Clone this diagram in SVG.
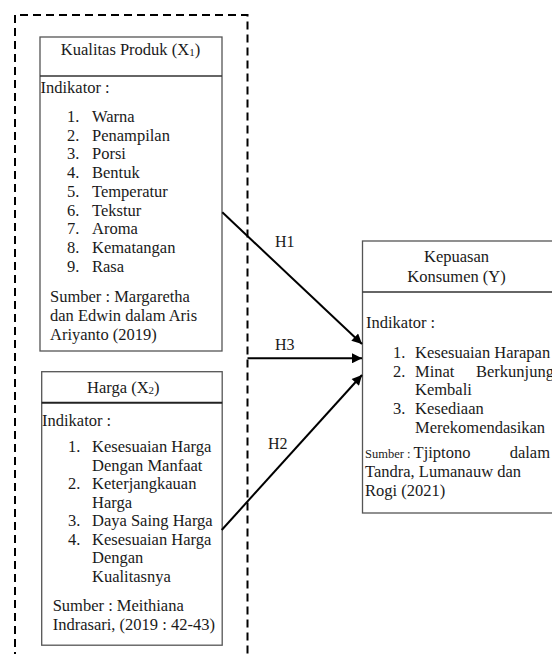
<svg xmlns="http://www.w3.org/2000/svg" width="552" height="654" viewBox="0 0 552 654">
<defs>
<style>
text{font-family:"Liberation Serif","Times New Roman",serif;font-size:16.5px;fill:#1a1a1a}
.box{fill:#fff;stroke:#555;stroke-width:1.3}
.hdr{stroke:#333;stroke-width:1.3}
.sub{font-size:11px}
.small{font-size:12.5px}
.conn{stroke:#000;stroke-width:2;fill:none}
.lbl{font-size:16px}
</style>
<marker id="ah" viewBox="0 0 10 10" refX="10" refY="5" markerWidth="5.5" markerHeight="5" orient="auto" markerUnits="strokeWidth">
<path d="M0,0 L10,5 L0,10 z" fill="#000"/>
</marker>
</defs>
<rect width="552" height="654" fill="#fff"/>
<g id="group-frame">
<path d="M15,660 L15,15 L247.5,15 L247.5,660" fill="none" stroke="#000" stroke-width="2" stroke-dasharray="8,5"/>
</g>
<g id="node-x1">
<rect class="box" x="40" y="37" width="182" height="314"/>
<line class="hdr" x1="40" y1="76" x2="222" y2="76"/>
<text x="130.5" y="55" text-anchor="middle">Kualitas Produk (X<tspan class="sub" dy="1">1</tspan><tspan dy="-1">)</tspan></text>
<text x="40.5" y="93">Indikator :</text>
<text x="67" y="122">1.</text><text x="92" y="122">Warna</text>
<text x="67" y="140.7">2.</text><text x="92" y="140.7">Penampilan</text>
<text x="67" y="159.4">3.</text><text x="92" y="159.4">Porsi</text>
<text x="67" y="178.1">4.</text><text x="92" y="178.1">Bentuk</text>
<text x="67" y="196.8">5.</text><text x="92" y="196.8">Temperatur</text>
<text x="67" y="215.5">6.</text><text x="92" y="215.5">Tekstur</text>
<text x="67" y="234.2">7.</text><text x="92" y="234.2">Aroma</text>
<text x="67" y="252.9">8.</text><text x="92" y="252.9">Kematangan</text>
<text x="67" y="271.6">9.</text><text x="92" y="271.6">Rasa</text>
<text x="50" y="302">Sumber : Margaretha</text>
<text x="50" y="321">dan Edwin dalam Aris</text>
<text x="50" y="340">Ariyanto (2019)</text>
</g>
<g id="node-x2">
<rect class="box" x="41.7" y="371.7" width="180.5" height="273.5"/>
<line x1="41.7" y1="402.7" x2="222.2" y2="402.7" stroke="#222" stroke-width="2"/>
<text x="87" y="393">Harga (X<tspan class="sub" dy="1">2</tspan><tspan dy="-1">)</tspan></text>
<text x="42" y="426">Indikator :</text>
<text x="68" y="452">1.</text><text x="92" y="452">Kesesuaian Harga</text>
<text x="92" y="470.5">Dengan Manfaat</text>
<text x="68" y="489">2.</text><text x="92" y="489">Keterjangkauan</text>
<text x="92" y="507.5">Harga</text>
<text x="68" y="526">3.</text><text x="92" y="526">Daya Saing Harga</text>
<text x="68" y="544.5">4.</text><text x="92" y="544.5">Kesesuaian Harga</text>
<text x="92" y="563">Dengan</text>
<text x="92" y="581.5">Kualitasnya</text>
<text x="52.7" y="611">Sumber : Meithiana</text>
<text x="52.7" y="630">Indrasari, (2019 : 42-43)</text>
</g>
<g id="node-y">
<rect class="box" x="362.5" y="241" width="192" height="272"/>
<line class="hdr" x1="362.5" y1="292" x2="554" y2="292"/>
<text x="456.5" y="262" text-anchor="middle">Kepuasan</text>
<text x="456.5" y="282" text-anchor="middle">Konsumen (Y)</text>
<text x="366" y="328">Indikator :</text>
<text x="393" y="358">1.</text><text x="415" y="358">Kesesuaian Harapan</text>
<text x="393" y="377">2.</text><text x="415" y="377">Minat</text><text x="476" y="377">Berkunjung</text>
<text x="415" y="395">Kembali</text>
<text x="393" y="414">3.</text><text x="415" y="414">Kesediaan</text>
<text x="415" y="433">Merekomendasikan</text>
<text x="365" y="458"><tspan class="small">Sumber : </tspan>Tjiptono</text><text x="550" y="458" text-anchor="end">dalam</text>
<text x="365" y="477">Tandra, Lumanauw dan</text>
<text x="365" y="496">Rogi (2021)</text>
</g>
<g id="connectors">
<line class="conn" x1="222.3" y1="212.3" x2="362" y2="344" marker-end="url(#ah)"/>
<line class="conn" x1="247.5" y1="358.3" x2="362" y2="358.3" marker-end="url(#ah)"/>
<line class="conn" x1="221.7" y1="530" x2="362" y2="375" marker-end="url(#ah)"/>
<text class="lbl" x="275" y="247">H1</text>
<text class="lbl" x="275" y="350">H3</text>
<text class="lbl" x="268" y="449">H2</text>
</g>
</svg>
